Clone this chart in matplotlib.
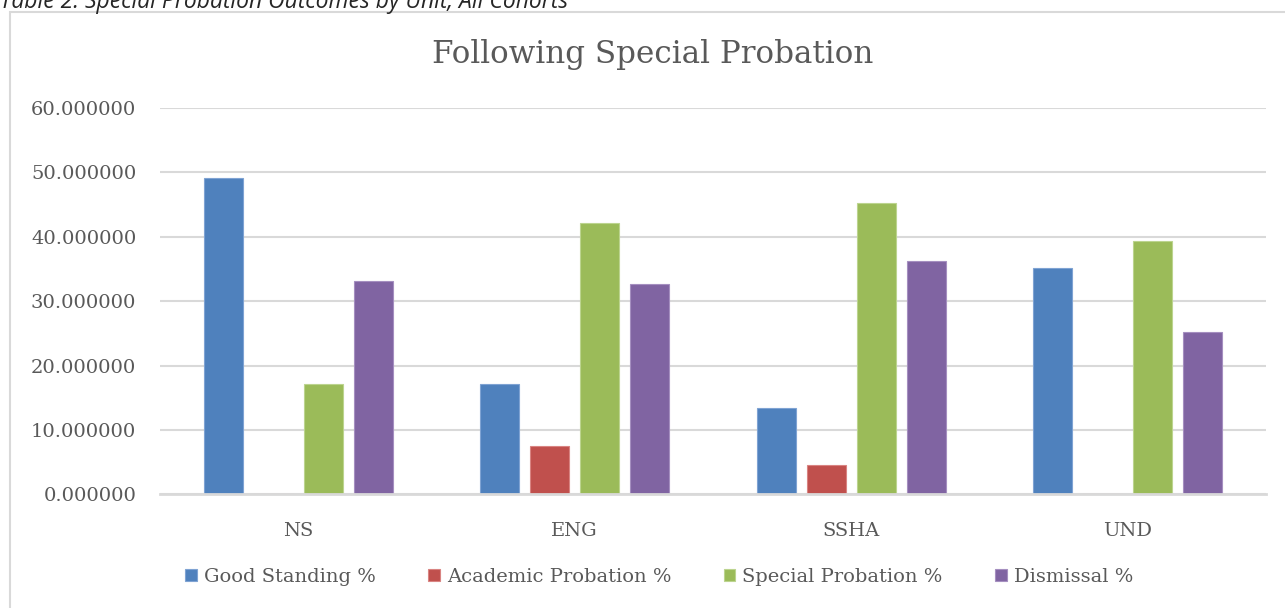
import numpy as np
import matplotlib
matplotlib.use('Agg')
import matplotlib.pyplot as plt
from matplotlib.patches import Rectangle
from matplotlib.ticker import FormatStrFormatter

units = ['NS', 'ENG', 'SSHA', 'UND']
series = ['Good Standing %', 'Academic Probation %', 'Special Probation %', 'Dismissal %']
good = [49.2, 17.2, 13.5, 35.1]
academic = [0.0, 7.6, 4.5, 0.0]
special = [17.2, 42.2, 45.3, 39.3]
dismissal = [33.2, 32.6, 36.2, 25.2]
colors = ['#4f81bd', '#c0504d', '#9bbb59', '#8064a2']
edges = ['#7fa3d3', '#d98482', '#bcd48f', '#a58fc0']

grey = '#595959'
grid = '#d9d9d9'

fig = plt.figure(figsize=(12.85, 6.08), dpi=100)
ax = fig.add_axes([0.1245, 0.1867, 0.8607, 0.6357])

# chart frame, cut off on the right and bottom
fig.patches.append(Rectangle((10/1285, -0.1), 1.2, 1.1 - 12/608, transform=fig.transFigure,
                             fill=False, edgecolor=grid, linewidth=1.5, zorder=0))
# caption sits above the chart, top half cut off like in the source page
fig.text(0.0, 1 - 8/608, 'Table 2: Special Probation Outcomes by Unit, All Cohorts',
         fontsize=16.5, style='italic', family='Open Sans', color='#262626', va='baseline', ha='left')

x = np.arange(len(units))
w = 0.141
step = 0.1805
for i, (vals, name) in enumerate(zip([good, academic, special, dismissal], series)):
    ax.bar(x + (i - 1.5) * step, vals, width=w, color=colors[i], edgecolor=edges[i],
           linewidth=0.8, label=name, zorder=3)

ax.set_xlim(-0.5, 3.5)
ax.set_ylim(0, 60)
ax.set_yticks(np.arange(0, 61, 10))
ax.yaxis.set_major_formatter(FormatStrFormatter('%.6f'))
ax.set_xticks(x)
ax.set_xticklabels(units)
ax.grid(axis='y', color=grid, linewidth=1.5, zorder=0)
for s in ['top', 'right', 'left']:
    ax.spines[s].set_visible(False)
ax.spines['bottom'].set_color(grid)
ax.spines['bottom'].set_linewidth(2)
ax.spines['bottom'].set_zorder(4)
ax.tick_params(axis='both', length=0, colors=grey, labelsize=14)
ax.tick_params(axis='y', pad=17)
ax.tick_params(axis='x', pad=20)
for lab in ax.get_xticklabels() + ax.get_yticklabels():
    lab.set_family('DejaVu Serif')

fig.text(0.508, 1 - 55/608, 'Following Special Probation', fontsize=22.3, family='DejaVu Serif',
         color=grey, ha='center', va='center')

leg = fig.legend(loc='center', bbox_to_anchor=(0.513, 1 - 577/608), ncol=4, frameon=False,
                 handlelength=0.6, handleheight=0.6, handletextpad=0.35, columnspacing=2.7,
                 prop={'family': 'DejaVu Serif', 'size': 14})
for t in leg.get_texts():
    t.set_color(grey)

fig.savefig('out.png', dpi=100)
